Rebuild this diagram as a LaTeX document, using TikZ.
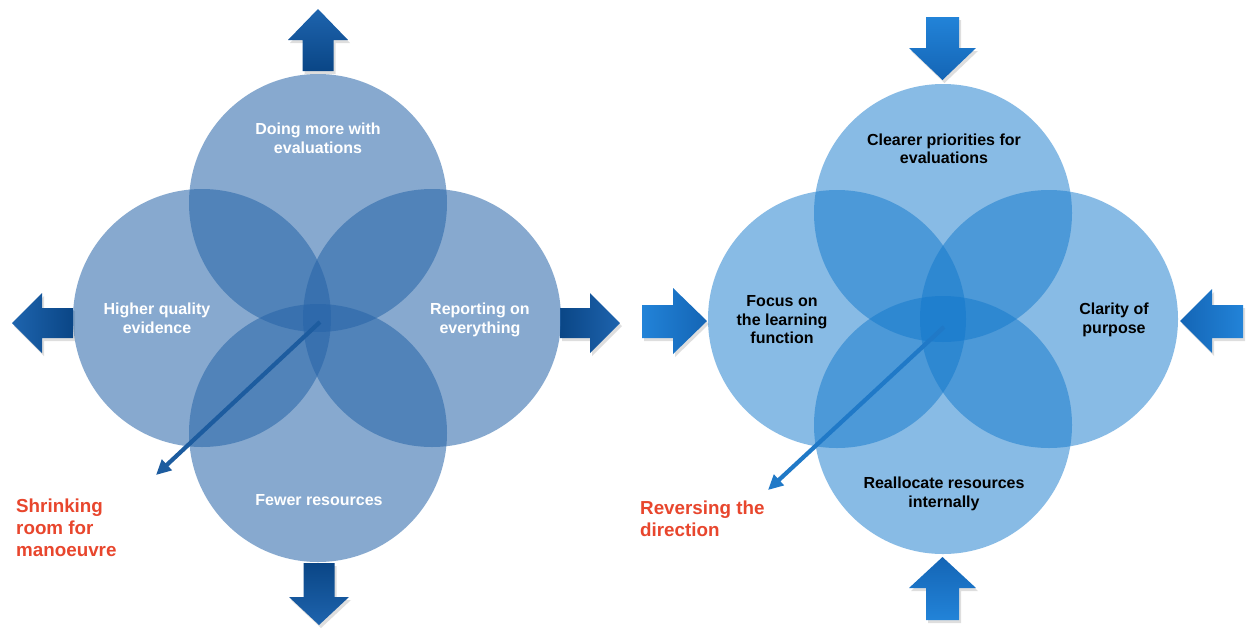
\documentclass[tikz,border=0pt]{standalone}
\usepackage{fontspec}
\setmainfont{Liberation Sans}
\usetikzlibrary{arrows.meta}
\definecolor{lcirc}{RGB}{38,100,168}
\definecolor{rcirc}{RGB}{18,120,204}
\definecolor{ldark}{RGB}{10,70,134}
\definecolor{llight}{RGB}{30,100,174}
\definecolor{rdark}{RGB}{20,101,181}
\definecolor{rlight}{RGB}{34,131,216}
\definecolor{lptr}{RGB}{29,92,159}
\definecolor{rptr}{RGB}{32,121,199}
\definecolor{redtxt}{RGB}{232,70,45}
\tikzset{
  lcircle/.style={circle, minimum size=258pt, inner sep=0pt, fill=lcirc, fill opacity=0.55},
  rcircle/.style={circle, minimum size=258pt, inner sep=0pt, fill=rcirc, fill opacity=0.5},
  ltext/.style={text=white, align=center, font=\bfseries\fontsize{16}{19}\selectfont},
  rtext/.style={text=black, align=center, font=\bfseries\fontsize{16}{18.5}\selectfont},
  redlabel/.style={text=redtxt, align=left, anchor=west, inner sep=0pt, font=\bfseries\fontsize{18.8}{22}\selectfont},
  shadowed/.style={preaction={fill=black, opacity=0.13, transform canvas={shift={(2pt,-3pt)}}}},
  lpointer/.style={draw=lptr, line width=4.2pt, -{Triangle[length=15pt,width=14pt]}},
  rpointer/.style={draw=rptr, line width=4.2pt, -{Triangle[length=15pt,width=14pt]}}
}
\begin{document}
\begin{tikzpicture}[x=1pt,y=-1pt]
\useasboundingbox (0,0) rectangle (1248,630);
\fill[white] (0,0) rectangle (1248,630);

% ---------- left diagram: outward arrows ----------
\shade[shadowed, top color=llight, bottom color=ldark]
  (302.5,71) -- (302.5,40) -- (288,40) -- (318,9) -- (348,40) -- (333.5,40) -- (333.5,71) -- cycle;
\shade[shadowed, top color=ldark, bottom color=llight]
  (303.5,563) -- (303.5,597) -- (289,597) -- (319,625) -- (349,597) -- (334.5,597) -- (334.5,563) -- cycle;
\shade[shadowed, left color=llight, right color=ldark]
  (73,308) -- (42,308) -- (42,293) -- (12,323) -- (42,353) -- (42,338) -- (73,338) -- cycle;
\shade[shadowed, left color=ldark, right color=llight]
  (560,308) -- (590,308) -- (590,293) -- (620,323) -- (590,353) -- (590,338) -- (560,338) -- cycle;

% ---------- left diagram: circles ----------
\node[lcircle] (LT) at (318,203) {};
\node[lcircle] (LL) at (202,318) {};
\node[lcircle] (LR) at (432,318) {};
\node[lcircle] (LB) at (318,433) {};

\node[ltext] (LTt) at (318,138) {Doing more with\\evaluations};
\node[ltext] (LLt) at (157,318.5) {Higher quality\\evidence};
\node[ltext] (LRt) at (480,320) {Reporting on\\everything};
\node[ltext] (LBt) at (319,500) {Fewer resources};

\coordinate (Lc) at (320,322);
\coordinate (Lend) at (156,475);
\draw[lpointer] (Lc) -- (Lend);

\node[redlabel] (Lred) at (16,528) {Shrinking\\room for\\manoeuvre};

% ---------- right diagram: inward arrows ----------
\shade[shadowed, top color=rlight, bottom color=rdark]
  (926,17) -- (926,48) -- (909,48) -- (942.5,80) -- (976,48) -- (959,48) -- (959,17) -- cycle;
\shade[shadowed, top color=rdark, bottom color=rlight]
  (926,620) -- (926,588) -- (909,588) -- (942.5,557) -- (976,588) -- (959,588) -- (959,620) -- cycle;
\shade[shadowed, left color=rlight, right color=rdark]
  (642,305) -- (673,305) -- (673,288) -- (707,321) -- (673,354) -- (673,338) -- (642,338) -- cycle;
\shade[shadowed, left color=rdark, right color=rlight]
  (1243,305) -- (1212,305) -- (1212,289) -- (1180,321) -- (1212,353) -- (1212,338) -- (1243,338) -- cycle;

% ---------- right diagram: circles ----------
\node[rcircle] (RT) at (943,213) {};
\node[rcircle] (RL) at (837,319) {};
\node[rcircle] (RR) at (1049,319) {};
\node[rcircle] (RB) at (943,425) {};

\node[rtext] (RTt) at (944,149) {Clearer priorities for\\evaluations};
\node[rtext] (RLt) at (782,320) {Focus on\\the learning\\function};
\node[rtext] (RRt) at (1114,320) {Clarity of\\purpose};
\node[rtext] (RBt) at (944,494) {Reallocate resources\\internally};

\coordinate (Rc) at (944,327);
\coordinate (Rend) at (768,490);
\draw[rpointer] (Rc) -- (Rend);

\node[redlabel] (Rred) at (640,519) {Reversing the\\direction};
\end{tikzpicture}
\end{document}
